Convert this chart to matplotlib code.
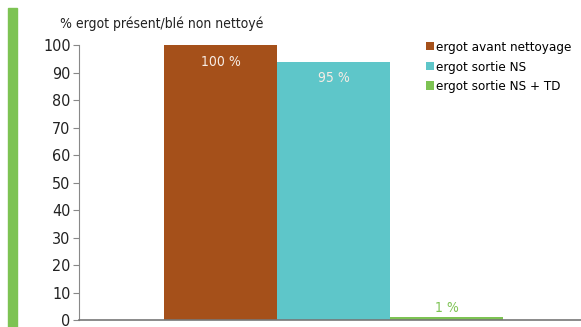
import matplotlib.pyplot as plt
from matplotlib.patches import Rectangle

# data
series = ['ergot avant nettoyage', 'ergot sortie NS', 'ergot sortie NS + TD']
values = [100, 94, 1]
value_labels = ['100 %', '95 %', '1 %']
colors = ['#a5501a', '#5ec6c9', '#7dc353']
yticks = [0, 10, 20, 30, 40, 50, 60, 70, 80, 90, 100]

plt.rcParams['font.family'] = ['DejaVu Sans']
plt.rcParams['font.stretch'] = 'condensed'

fig = plt.figure(figsize=(5.81, 3.27), dpi=100)
ax = fig.add_axes([0.136, 0.021, 0.864, 0.841])

# green strip on the left
fig.patches.append(Rectangle((8 / 581, 0), 9 / 581, 1 - 8 / 327,
                             transform=fig.transFigure, color='#7dc353'))

xs = [0, 1, 2]
bars = ax.bar(xs, values, width=1.0, color=colors, label=series)

for x, v, lab in zip(xs, values, value_labels):
    if v > 10:
        ax.text(x, v - 3.5, lab, ha='center', va='top', color='#f7ece4', fontsize=10)
    else:
        ax.text(x, v + 1, lab, ha='center', va='bottom', color='#7dc353', fontsize=10)

ax.set_xlim(-1.252, 3.19)
ax.set_ylim(0, 100)
ax.set_yticks(yticks)
ax.set_xticks([])
ax.tick_params(axis='y', labelsize=11.5, colors='#888888', labelcolor='#222222',
               length=4, width=0.8, pad=2)
for s in ['top', 'right']:
    ax.spines[s].set_visible(False)
ax.spines['left'].set_color('#888888')
ax.spines['bottom'].set_color('#777777')
ax.spines['bottom'].set_linewidth(1.2)

fig.text(60 / 581, 1 - 24 / 327, '% ergot présent/blé non nettoyé',
         fontsize=10, va='center', ha='left', color='#222222')

leg = ax.legend(loc='upper left', bbox_to_anchor=(0.68, 1.035), frameon=False,
                fontsize=9.6, handlelength=0.6, handleheight=0.6,
                handletextpad=0.2, labelspacing=0.5, borderaxespad=0)

fig.savefig('out.png', dpi=100)
